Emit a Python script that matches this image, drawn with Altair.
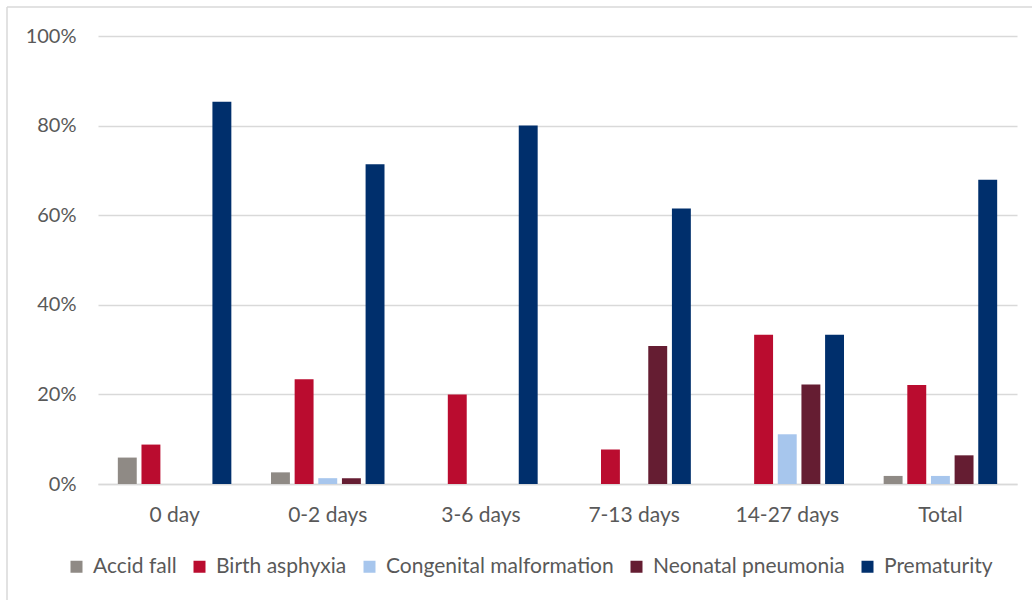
import altair as alt
import pandas as pd

# Age groups at death and causes (share of deaths within each group)
age_groups = ["0 day", "0-2 days", "3-6 days", "7-13 days", "14-27 days", "Total"]
causes = ["Accid fall", "Birth asphyxia", "Congenital malformation",
          "Neonatal pneumonia", "Prematurity"]
colors = ["#8F8A85", "#BA0C2F", "#A7C6ED", "#651D32", "#002F6C"]

accid_fall = [0.059, 0.026, 0.0, 0.0, 0.0, 0.018]
birth_asphyxia = [0.088, 0.234, 0.20, 0.077, 0.333, 0.221]
congenital = [0.0, 0.013, 0.0, 0.0, 0.111, 0.018]
pneumonia = [0.0, 0.013, 0.0, 0.308, 0.222, 0.064]
prematurity = [0.853, 0.714, 0.80, 0.615, 0.333, 0.679]

series = [accid_fall, birth_asphyxia, congenital, pneumonia, prematurity]
rows = []
for cause, vals in zip(causes, series):
    for grp, v in zip(age_groups, vals):
        rows.append({"group": grp, "cause": cause, "share": v})
df = pd.DataFrame(rows)

FONT = "Lato"
TEXT = "#595959"
GRID = "#D9D9D9"

bars = alt.Chart(df).mark_bar().encode(
    x=alt.X("group:N", sort=age_groups, title=None,
            scale=alt.Scale(paddingInner=0.228, paddingOuter=0.114),
            axis=alt.Axis(labelAngle=0, labelFontSize=21, labelColor=TEXT,
                          labelFont=FONT, labelPadding=20, ticks=False,
                          domainColor=GRID, domainWidth=1.5)),
    xOffset=alt.XOffset("cause:N", sort=causes,
                        scale=alt.Scale(paddingInner=0.2, paddingOuter=0.1)),
    y=alt.Y("share:Q", title=None,
            scale=alt.Scale(domain=[0, 1], nice=False),
            axis=alt.Axis(format=".0%", values=[0, 0.2, 0.4, 0.6, 0.8, 1.0],
                          labelFontSize=20, labelColor=TEXT, labelFont=FONT,
                          labelPadding=22, ticks=False, domain=False,
                          gridColor=GRID, gridWidth=1.5)),
    color=alt.Color("cause:N", sort=causes,
                    scale=alt.Scale(domain=causes, range=colors),
                    legend=alt.Legend(title=None, orient="none",
                                      direction="horizontal",
                                      legendX=-32, legendY=520,
                                      symbolType="square", symbolSize=144,
                                      symbolStrokeWidth=0, labelOffset=6,
                                      columnPadding=12, labelFontSize=21,
                                      labelLimit=0,
                                      labelColor=TEXT, labelFont=FONT)),
)

# thin frame around the chart (left and top edges)
frame_df = pd.DataFrame({"k": [0]})
frame_left = alt.Chart(frame_df).mark_rule(color=GRID, strokeWidth=1.5).encode(
    x=alt.value(-91), y=alt.value(-29), y2=alt.value(600))
frame_top = alt.Chart(frame_df).mark_rule(color=GRID, strokeWidth=1.5).encode(
    x=alt.value(-91), x2=alt.value(1000), y=alt.value(-29))

chart = alt.layer(bars, frame_left, frame_top).properties(
    width=919, height=448,
    padding={"left": 98, "top": 36, "right": 15, "bottom": 116},
    autosize=alt.AutoSizeParams(type="none"),
    background="white",
).configure_view(stroke=None)

chart.save("out.html", embed_options={"renderer": "svg", "actions": False})
